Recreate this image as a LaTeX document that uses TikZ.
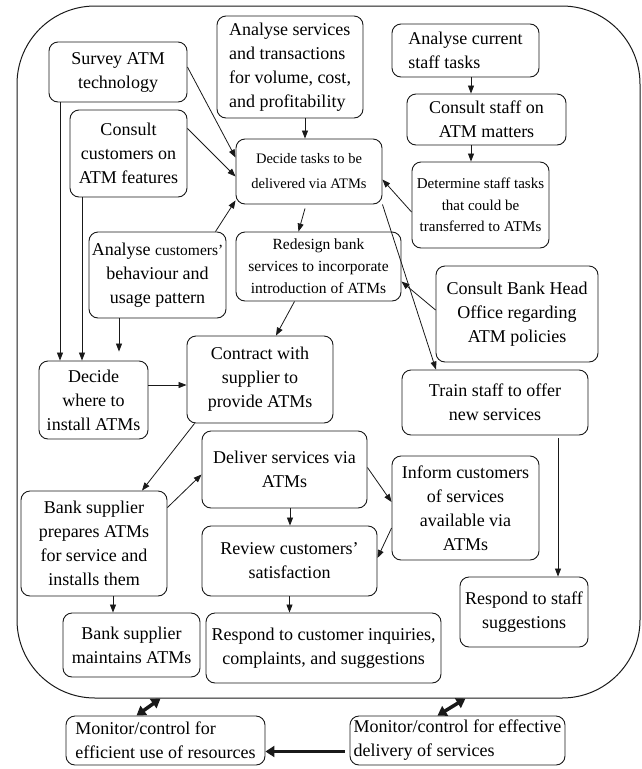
\documentclass[tikz,border=0pt]{standalone}
\usepackage{fontspec}
\setmainfont{LiberationSerif}[Extension=.ttf, UprightFont=*-Regular, BoldFont=*-Bold]
\usepackage{tikz}
\usetikzlibrary{arrows.meta}
\definecolor{mydark}{RGB}{25,25,25}
\tikzset{
  block/.style={rectangle, draw=mydark, fill=white, align=center,
    font=\fontsize{18}{24}\selectfont, rounded corners=9pt,
    line width=0.9pt, inner sep=2pt},
  leftblock/.style={block, align=left},
  bigframe/.style={rectangle, draw=mydark, rounded corners=78pt, line width=1pt},
  arrow/.style={-{Triangle[length=8pt,width=6pt]}, line width=0.8pt, color=mydark},
  bigarrow/.style={-{Triangle[length=9pt,width=11pt]}, line width=3.5pt, color=mydark},
  bigboth/.style={{Triangle[length=9pt,width=11pt]}-{Triangle[length=9pt,width=11pt]},
    line width=3.5pt, color=mydark}
}

\begin{document}
\begin{tikzpicture}[x=1pt, y=-1pt]
  \useasboundingbox (0,0) rectangle (642,769);
  \node[bigframe, minimum width=623pt, minimum height=692pt] (frame) at (328.5,352) {};

  \node[block, minimum width=138pt, minimum height=60pt] (survey) at (118,72) {Survey ATM\\technology};
  \node[leftblock, minimum width=146pt, minimum height=102pt] (anasvc) at (290,67) {Analyse services\\and transactions\\for volume, cost,\\and profitability};
  \node[leftblock, minimum width=147pt, minimum height=53pt] (anastaff) at (465.5,50.5) {Analyse current\\staff tasks};
  \node[block, minimum width=159pt, minimum height=51pt] (cstaff) at (486.5,119.5) {Consult staff on\\ATM matters};
  \node[block, minimum width=117pt, minimum height=87pt] (ccust) at (128.5,153.5) {Consult\\customers on\\ATM features};
  \node[block, minimum width=146pt, minimum height=65pt, font=\fontsize{14.5}{25}\selectfont] (decide) at (309,171.5) {Decide tasks to be\\delivered via ATMs};
  \node[block, minimum width=137pt, minimum height=86pt, font=\fontsize{15}{21.5}\selectfont] (determine) at (480.5,205) {Determine staff tasks\\that could be\\transferred to ATMs};
  \node[block, minimum width=137pt, minimum height=86pt] (anacust) at (157.5,275) {Analyse {\fontsize{15.5}{24}\selectfont customers'}\\behaviour and\\usage pattern};
  \node[block, minimum width=165pt, minimum height=69pt, font=\fontsize{15.5}{22}\selectfont] (redesign) at (318.5,266.5) {Redesign bank\\services to incorporate\\introduction of ATMs};
  \node[block, minimum width=162pt, minimum height=96pt] (headoff) at (517,314) {Consult Bank Head\\Office regarding\\ATM policies};
  \node[block, minimum width=109pt, minimum height=78pt] (where) at (93.5,400) {Decide\\where to\\install ATMs};
  \node[block, minimum width=146pt, minimum height=87pt] (contract) at (260,379.5) {Contract with\\supplier to\\provide ATMs};
  \node[block, minimum width=186pt, minimum height=65pt] (train) at (495,402.5) {Train staff to offer\\new services};
  \node[block, minimum width=165pt, minimum height=77pt] (deliver) at (284.5,469.5) {Deliver services via\\ATMs};
  \node[block, minimum width=147pt, minimum height=104pt] (inform) at (465.5,508) {Inform customers\\of services\\available via\\ATMs};
  \node[block, minimum width=146pt, minimum height=105pt] (prepare) at (94,543.5) {Bank supplier\\prepares ATMs\\for service and\\installs them};
  \node[block, minimum width=175pt, minimum height=70pt] (review) at (289.5,561) {Review customers'\\satisfaction};
  \node[block, minimum width=128pt, minimum height=70pt] (respstaff) at (524,612) {Respond to staff\\suggestions};
  \node[block, minimum width=137pt, minimum height=64pt] (maintain) at (131.5,645) {Bank supplier\\maintains ATMs};
  \node[block, minimum width=235pt, minimum height=70pt] (respcust) at (323.5,648) {Respond to customer inquiries,\\complaints, and suggestions};
  \node[leftblock, minimum width=199pt, minimum height=49pt] (monres) at (165.5,740.5) {Monitor/control for\\efficient use of resources};
  \node[leftblock, minimum width=215pt, minimum height=49pt] (mondel) at (457.5,740.5) {Monitor/control for effective\\delivery of services};

  \draw[arrow] ([yshift=5pt]survey.east) -- ([yshift=14pt]decide.west);
  \draw[arrow] ([yshift=25pt]ccust.east) -- ([yshift=-5pt]decide.west);
  \draw[arrow] ([xshift=58pt]anacust.north) -- ([yshift=4pt]decide.south west);
  \draw[arrow] ([xshift=15pt]anasvc.south) -- ([xshift=15pt]anasvc.south |- decide.north);
  \draw[arrow] ([yshift=-7pt]determine.west) -- ([yshift=-8pt]decide.east);
  \draw[arrow] ([xshift=5.5pt]anastaff.south) -- ([xshift=5.5pt]anastaff.south |- cstaff.north);
  \draw[arrow] ([xshift=-15.5pt]cstaff.south) -- ([xshift=-15.5pt]cstaff.south |- determine.north);
  \draw[arrow] ([shift={(-4pt,-4pt)}]decide.south) -- ([xshift=-20pt]redesign.north);
  \draw[arrow] (decide.south east) -- ([xshift=-59pt]train.north);
  \draw[arrow] ([yshift=4pt]headoff.west) -- ([yshift=-15pt]redesign.east);
  \draw[arrow] ([xshift=-24pt]redesign.south) -- ([xshift=16pt]contract.north);
  \draw[arrow] ([xshift=-58pt]survey.south) -- ([xshift=-58pt]survey.south |- where.north);
  \draw[arrow] ([xshift=-46.5pt]ccust.south) -- ([xshift=-46.5pt]ccust.south |- where.north);
  \draw[arrow, shorten >=9pt] ([xshift=-38.5pt]anacust.south) -- ([xshift=-38.5pt]anacust.south |- where.north);
  \draw[arrow] ([yshift=15pt]where.east) -- ([yshift=15pt]where.east -| contract.west);
  \draw[arrow] ([xshift=8pt]contract.south west) -- ([xshift=48pt]prepare.north);
  \draw[arrow] ([yshift=36pt]prepare.east) -- ([yshift=-5pt]deliver.west);
  \draw[arrow] ([xshift=5.5pt]deliver.south) -- ([xshift=5.5pt]deliver.south |- review.north);
  \draw[arrow] ([yshift=2pt]deliver.east) -- ([yshift=6pt]inform.west);
  \draw[arrow] ([yshift=-20pt]inform.west) -- ([yshift=3pt]review.east);
  \draw[arrow] ([xshift=19pt]prepare.south) -- ([xshift=19pt]prepare.south |- maintain.north);
  \draw[arrow] (review.south) -- (review.south |- respcust.north);
  \draw[arrow] ([shift={(63pt,-3pt)}]train.south) -- ([xshift=63pt]train.south |- respstaff.north);

  \draw[bigboth] ([xshift=-168pt]frame.south) -- ([xshift=-29pt]monres.north);
  \draw[bigboth] ([xshift=137pt]frame.south) -- ([xshift=-20pt]mondel.north);
  \draw[bigarrow, shorten <=5pt] ([yshift=-11pt]mondel.west) -- ([yshift=-11pt]mondel.west -| monres.east);
\end{tikzpicture}
\end{document}
